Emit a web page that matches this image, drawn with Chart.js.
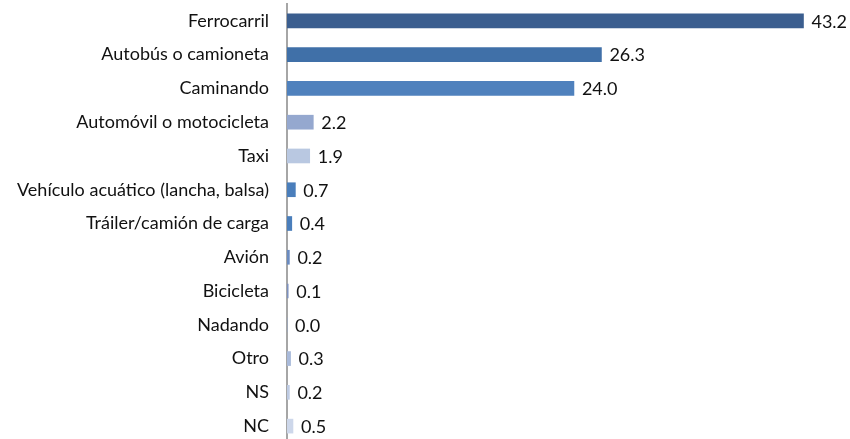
<!DOCTYPE html>
<html>
<head>
<meta charset="utf-8">
<script src="https://cdn.jsdelivr.net/npm/chart.js@4"></script>
<style>
  html, body { margin: 0; padding: 0; background: #fff; overflow: hidden; }
  canvas { display: block; }
</style>
</head>
<body>
<canvas id="c" width="850" height="443"></canvas>
<script>
// datos (porcentaje)
var categories = ["Ferrocarril", "Autobús o camioneta", "Caminando", "Automóvil o motocicleta", "Taxi",
  "Vehículo acuático (lancha, balsa)", "Tráiler/camión de carga", "Avión", "Bicicleta", "Nadando",
  "Otro", "NS", "NC"];
var values = [43.2, 26.3, 24.0, 2.2, 1.9, 0.7, 0.4, 0.2, 0.1, 0.0, 0.3, 0.2, 0.5];
var barColors = ["#3B5E8F", "#4070A8", "#4F81BD", "#95A8CF", "#B9C8E1", "#4A7EBB", "#4A7EBB",
  "#6A8BC0", "#7D91BF", "#8FA6D0", "#A9BADA", "#BECBE3", "#CDD7EA"];

var FONT = "Lato, 'Open Sans', sans-serif";

// etiquetas de valor al final de cada barra
var valueLabels = {
  id: 'valueLabels',
  afterDatasetsDraw: function (chart) {
    var ctx = chart.ctx;
    var meta = chart.getDatasetMeta(0);
    ctx.save();
    ctx.font = "18px " + FONT;
    ctx.fillStyle = "#111";
    ctx.textBaseline = "middle";
    ctx.textAlign = "left";
    meta.data.forEach(function (bar, i) {
      ctx.fillText(values[i].toFixed(1), bar.x + 8, bar.y + 1);
    });
    ctx.restore();
  }
};

new Chart(document.getElementById("c"), {
  type: 'bar',
  data: {
    labels: categories,
    datasets: [{
      data: values,
      backgroundColor: barColors,
      barThickness: 14
    }]
  },
  options: {
    indexAxis: 'y',
    responsive: false,
    animation: false,
    layout: { padding: { top: 4, right: 25, bottom: 0, left: 0 } },
    plugins: {
      legend: { display: false },
      tooltip: { enabled: false }
    },
    scales: {
      x: {
        display: false,
        min: 0,
        max: 45
      },
      y: {
        afterFit: function (scale) {
          scale.width = 287;
          scale.paddingTop = 0;
          scale.paddingBottom = 0;
        },
        grid: { display: true, drawOnChartArea: false, drawTicks: true, tickLength: 18, color: "rgba(0,0,0,0)" },
        border: { display: true, color: "#A6A6A6", width: 2 },
        ticks: {
          padding: 0,
          color: "#111",
          font: { family: FONT, size: 18 }
        }
      }
    }
  },
  plugins: [valueLabels]
});
</script>
</body>
</html>
